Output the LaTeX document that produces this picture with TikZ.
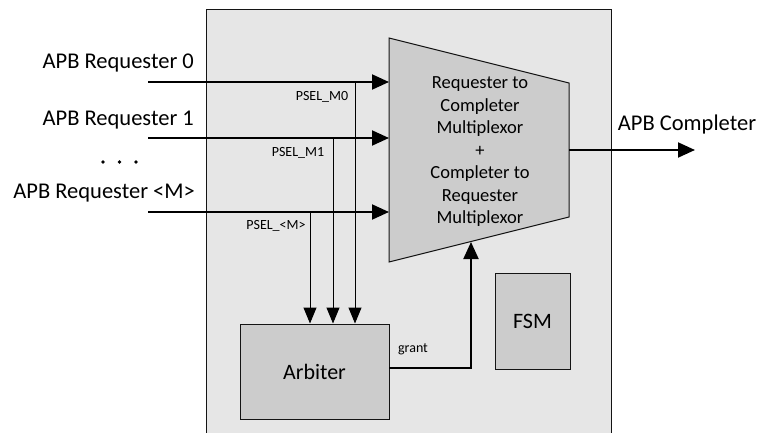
\documentclass[tikz,border=0pt]{standalone}
\usepackage{fontspec}
\setmainfont{Carlito}
\usetikzlibrary{arrows.meta,calc}

\definecolor{boxfill}{RGB}{230,230,230}
\definecolor{blockfill}{RGB}{204,204,204}
\definecolor{inkline}{RGB}{20,20,20}

\tikzset{
  bigtext/.style={font=\fontsize{22.5}{26}\selectfont, inner sep=0pt, text=black},
  blocktext/.style={font=\fontsize{22}{26}\selectfont, inner sep=0pt, text=black},
  muxtext/.style={font=\fontsize{18.5}{22.5}\selectfont, align=center, inner sep=0pt, text=black},
  smalltext/.style={font=\fontsize{14}{17}\selectfont, inner sep=0pt, text=black},
  block/.style={draw=inkline, fill=blockfill, line width=1pt, inner sep=0pt},
  busline/.style={draw=black, line width=2pt, -{Triangle[length=17pt,width=15pt]}},
  selline/.style={draw=black, line width=1pt, -{Triangle[length=16pt,width=13pt]}},
}

\begin{document}
\begin{tikzpicture}[x=1pt,y=-1pt]
\useasboundingbox (0,0) rectangle (761,433);

% enclosing module
\fill[boxfill] (206,10) rectangle (611,433);
\draw[inkline, line width=1pt] (206,433) -- (206,10) -- (611,10) -- (611,433);

% multiplexor trapezoid
\coordinate (mtl) at (389,38);
\coordinate (mtr) at (569,83);
\coordinate (mbr) at (569,217);
\coordinate (mbl) at (389,262);
\draw[block] (mtl) -- (mtr) -- (mbr) -- (mbl) -- cycle;
\node[muxtext] (mux) at (480,152) {Requester to\\Completer\\Multiplexor\\+\\Completer to\\Requester\\Multiplexor};

% arbiter and FSM
\node[block, minimum width=149pt, minimum height=95pt] (arb) at (314.5,371.5) {};
\node[blocktext] (arblbl) at (arb.center) {Arbiter};
\node[block, minimum width=75pt, minimum height=96pt] (fsm) at (532.5,321) {};
\node[blocktext] (fsmlbl) at (fsm.center) {FSM};

% requester inputs
\coordinate (s0) at (148,82);
\coordinate (s1) at (148,138);
\coordinate (sm) at (148,212);
\coordinate (e0) at (389,82);
\coordinate (e1) at (389,138);
\coordinate (em) at (389,212);
\node[bigtext, anchor=east] (r0) at (194,63) {APB Requester 0};
\node[bigtext, anchor=east] (r1) at (194,120) {APB Requester 1};
\node[bigtext, anchor=east] (rm) at (195,193) {APB Requester <M>};
\foreach \i/\x in {a/103,b/119.5,c/136}
  \fill (\x,162) circle (1.8pt) coordinate (dot\i);

\draw[busline] (s0) -- (e0);
\draw[busline] (s1) -- (e1);
\draw[busline] (sm) -- (em);

% select lines to the arbiter
\coordinate (t0) at (355,82);
\coordinate (t1) at (333,138);
\coordinate (tm) at (310,212);
\draw[selline] (t0) -- (t0 |- arb.north);
\draw[selline] (t1) -- (t1 |- arb.north);
\draw[selline] (tm) -- (tm |- arb.north);
\node[smalltext] (p0) at (322,97) {PSEL\_M0};
\node[smalltext] (p1) at (298,153) {PSEL\_M1};
\node[smalltext] (pm) at (276,226) {PSEL\_<M>};

% grant back to the multiplexor
\coordinate (g0) at (389,368);
\coordinate (g1) at (471,242);
\draw[busline] (g0) -| (g1);
\node[smalltext] (gl) at (413,349) {grant};

% completer output
\coordinate (o0) at (569,150);
\coordinate (o1) at (695,150);
\draw[busline] (o0) -- (o1);
\node[bigtext] (cl) at (687,125) {APB Completer};
\end{tikzpicture}
\end{document}
